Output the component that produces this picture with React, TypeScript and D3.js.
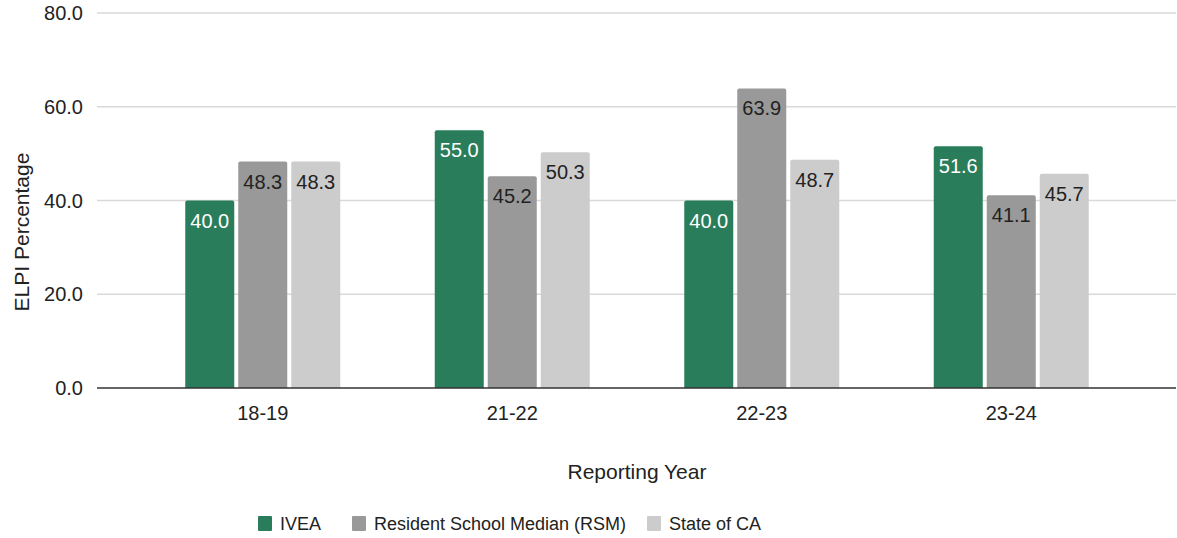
import React from "react";
import * as d3 from "d3";

const categories = ["18-19", "21-22", "22-23", "23-24"];
const seriesNames = ["IVEA", "Resident School Median (RSM)", "State of CA"];
const ivea = [40.0, 55.0, 40.0, 51.6];
const rsm = [48.3, 45.2, 63.9, 41.1];
const stateCA = [48.3, 50.3, 48.7, 45.7];
const yTicks = [0, 20, 40, 60, 80];
const colors = ["#2a7d5b", "#999999", "#cccccc"];
const labelColors = ["#ffffff", "#222222", "#222222"];

const W = 1177;
const H = 538;
const FONT = "'Liberation Sans', Arial, sans-serif";

export default function App() {
  const series = [ivea, rsm, stateCA];
  const y = d3.scaleLinear().domain([0, 80]).range([388, 13]);
  const x0 = d3.scaleBand().domain(categories).range([138, 1136]).paddingInner(0).paddingOuter(0);
  const groupW = 49 * 3 + 4 * 2;
  const x1 = d3
    .scaleBand()
    .domain(seriesNames)
    .range([0, groupW])
    .paddingInner(4 / 53)
    .paddingOuter(0);
  const gridLeft = 97;
  const gridRight = 1176;

  const barPath = (x: number, yTop: number, w: number, yBot: number, r: number) => {
    const p = d3.path();
    p.moveTo(x, yBot);
    p.lineTo(x, yTop + r);
    p.quadraticCurveTo(x, yTop, x + r, yTop);
    p.lineTo(x + w - r, yTop);
    p.quadraticCurveTo(x + w, yTop, x + w, yTop + r);
    p.lineTo(x + w, yBot);
    p.closePath();
    return p.toString();
  };

  const legendX = [258, 352, 647];

  return (
    <svg width={W} height={H} style={{ position: "absolute", left: 0, top: 0 }} fontFamily={FONT}>
      <rect x={0} y={0} width={W} height={H} fill="#ffffff" />
      {yTicks.map((t) => (
        <g key={t}>
          {t !== 0 && (
            <line x1={gridLeft} x2={gridRight} y1={y(t)} y2={y(t)} stroke="#d9d9d9" strokeWidth={1.3} />
          )}
          <text x={83} y={y(t)} dy="0.36em" textAnchor="end" fontSize={20} fill="#222">
            {t.toFixed(1)}
          </text>
        </g>
      ))}
      {categories.map((c, ci) => {
        const gx = (x0(c) as number) + x0.bandwidth() / 2 - groupW / 2;
        return (
          <g key={c}>
            {series.map((s, si) => {
              const bx = gx + (x1(seriesNames[si]) as number);
              const bw = x1.bandwidth();
              const top = y(s[ci]);
              return (
                <g key={si}>
                  <path d={barPath(bx, top, bw, y(0), 2)} fill={colors[si]} />
                  <text
                    x={bx + bw / 2}
                    y={top + 27}
                    textAnchor="middle"
                    fontSize={20}
                    fill={labelColors[si]}
                  >
                    {s[ci].toFixed(1)}
                  </text>
                </g>
              );
            })}
            <text
              x={(x0(c) as number) + x0.bandwidth() / 2}
              y={420}
              textAnchor="middle"
              fontSize={20}
              fill="#222"
            >
              {c}
            </text>
          </g>
        );
      })}
      <line x1={gridLeft} x2={gridRight} y1={y(0)} y2={y(0)} stroke="#333333" strokeWidth={1.3} />
      <text
        transform={`translate(29, 232) rotate(-90)`}
        textAnchor="middle"
        fontSize={21}
        fill="#222"
      >
        ELPI Percentage
      </text>
      <text x={637} y={479} textAnchor="middle" fontSize={21} fill="#222">
        Reporting Year
      </text>
      {seriesNames.map((n, i) => (
        <g key={n}>
          <rect x={legendX[i]} y={516} width={14} height={15} fill={colors[i]} rx={1} />
          <text x={legendX[i] + 22} y={530} fontSize={18} fill="#222">
            {n}
          </text>
        </g>
      ))}
    </svg>
  );
}
